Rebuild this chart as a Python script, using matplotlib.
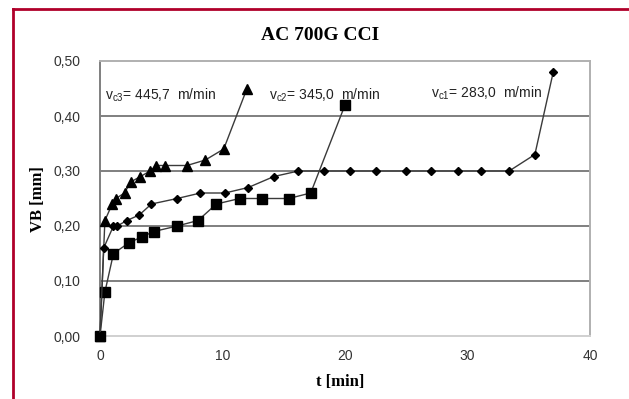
import matplotlib
matplotlib.use("Agg")
import matplotlib.pyplot as plt
from matplotlib.lines import Line2D

# vc3 = 445,7 m/min (triangles)
t_vc3 = [0, 0.4, 1.0, 1.3, 2.0, 2.5, 3.3, 4.1, 4.6, 5.3, 7.1, 8.6, 10.1, 12.0]
vb_vc3 = [0, 0.21, 0.24, 0.25, 0.26, 0.28, 0.29, 0.30, 0.31, 0.31, 0.31, 0.32, 0.34, 0.45]

# vc2 = 345,0 m/min (squares)
t_vc2 = [0, 0.4, 1.1, 2.4, 3.4, 4.4, 6.3, 8.0, 9.5, 11.4, 13.2, 15.4, 17.2, 20.0]
vb_vc2 = [0, 0.08, 0.15, 0.17, 0.18, 0.19, 0.20, 0.21, 0.24, 0.25, 0.25, 0.25, 0.26, 0.42]

# vc1 = 283,0 m/min (diamonds)
t_vc1 = [0, 0.3, 1.1, 1.4, 2.2, 3.2, 4.2, 6.3, 8.2, 10.2, 12.1, 14.2, 16.2, 18.3,
         20.4, 22.5, 25.0, 27.0, 29.2, 31.1, 33.4, 35.5, 37.0]
vb_vc1 = [0, 0.16, 0.20, 0.20, 0.21, 0.22, 0.24, 0.25, 0.26, 0.26, 0.27, 0.29, 0.30, 0.30,
          0.30, 0.30, 0.30, 0.30, 0.30, 0.30, 0.30, 0.33, 0.48]

x_ticks = [0, 10, 20, 30, 40]
y_ticks = [0.0, 0.1, 0.2, 0.3, 0.4, 0.5]
y_tick_labels = ["0,00", "0,10", "0,20", "0,30", "0,40", "0,50"]

title = "AC 700G CCI"
xlabel = "t [min]"
ylabel = "VB [mm]"

labels = [
    (r"v$_{\mathregular{c3}}$= 445,7  m/min", 0.4, 0.437),
    (r"v$_{\mathregular{c2}}$= 345,0  m/min", 13.8, 0.437),
    (r"v$_{\mathregular{c1}}$= 283,0  m/min", 27.0, 0.441),
]

W, H = 629, 399
fig = plt.figure(figsize=(W / 100, H / 100), dpi=100)
fig.patch.set_facecolor("white")
ax = fig.add_axes([100 / W, 1 - 336 / H, 490 / W, 275 / H])

sans = "Liberation Sans"
serif = "Liberation Serif"

for yv in y_ticks[1:-1]:
    ax.axhline(yv, color="#7f7f7f", lw=1.4, zorder=1)

lc = "#3a3a3a"
ax.plot(t_vc3, vb_vc3, color=lc, lw=1.0, marker="^", ms=7, mfc="black", mec="black", zorder=3, clip_on=False)
ax.plot(t_vc2, vb_vc2, color=lc, lw=1.0, marker="s", ms=6.5, mfc="black", mec="black", zorder=3, clip_on=False)
ax.plot(t_vc1, vb_vc1, color=lc, lw=1.0, marker="D", ms=4, mfc="black", mec="black", zorder=3, clip_on=False)

ax.set_xlim(0, 40)
ax.set_ylim(0, 0.5)
ax.set_xticks(x_ticks)
ax.set_yticks(y_ticks)
ax.set_yticklabels(y_tick_labels)
ax.tick_params(length=0, labelsize=10, labelcolor="#333333")
ax.tick_params(axis="x", pad=9)
ax.tick_params(axis="y", pad=14)
for lab in ax.get_xticklabels() + ax.get_yticklabels():
    lab.set_fontfamily(sans)

ax.spines["left"].set_color("#7f7f7f")
ax.spines["left"].set_linewidth(1.4)
ax.spines["bottom"].set_color("#d0d0d0")
ax.spines["bottom"].set_linewidth(1.4)
ax.spines["right"].set_color("#b0b0b0")
ax.spines["right"].set_linewidth(1.4)
ax.spines["top"].set_color("#b0b0b0")
ax.spines["top"].set_linewidth(1.4)

for txt, x, y in labels:
    ax.text(x, y, txt, fontsize=10, family=sans, color="#222222", va="center", ha="left", zorder=4)

fig.text(320 / W, 1 - 35 / H, title, ha="center", va="center", family=serif,
         fontweight="bold", fontsize=14)
fig.text(340 / W, 1 - 382 / H, xlabel, ha="center", va="center", family=serif,
         fontweight="bold", fontsize=12)
fig.text(38 / W, 1 - 199 / H, ylabel, ha="center", va="center", family=serif,
         fontweight="bold", fontsize=12, rotation=90)

red = "#b0002a"
fig.add_artist(Line2D([13 / W, 13 / W], [0, 1 - 9 / H], color=red, lw=2, transform=fig.transFigure))
fig.add_artist(Line2D([13 / W, 1], [1 - 9 / H, 1 - 9 / H], color=red, lw=2, transform=fig.transFigure))

fig.savefig("out.png", dpi=100)
